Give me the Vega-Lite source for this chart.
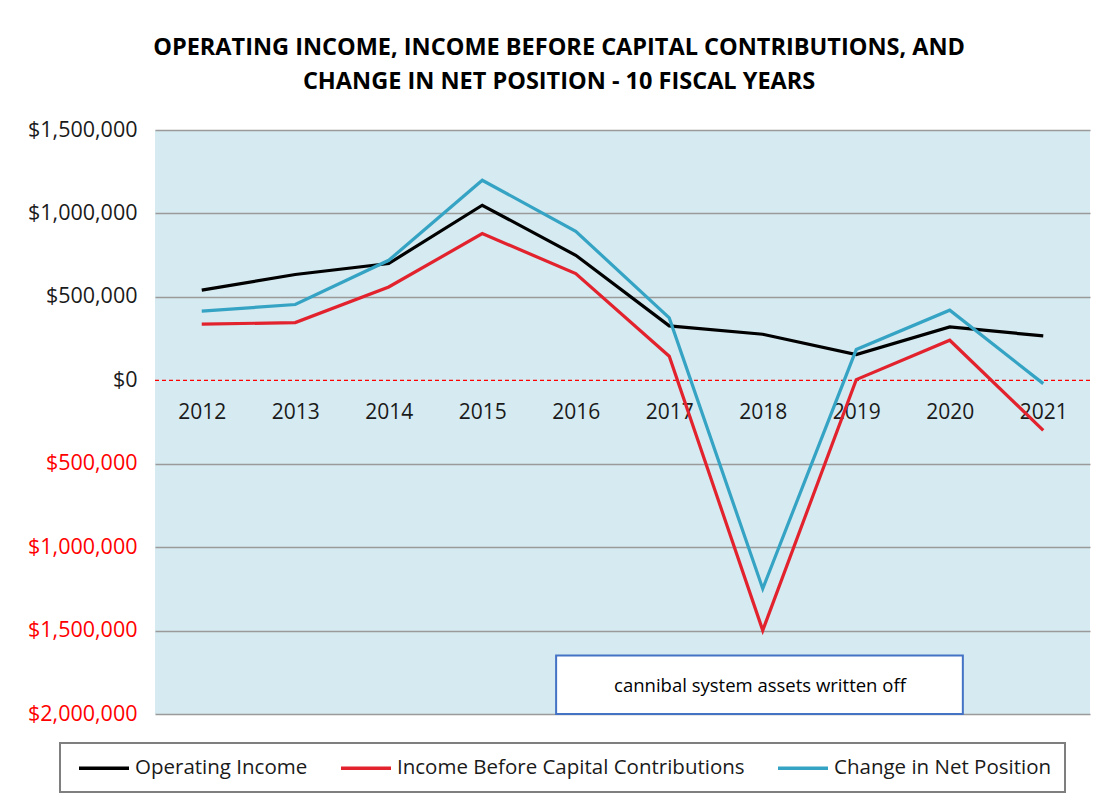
{
  "$schema": "https://vega.github.io/schema/vega-lite/v6.json",
  "width": 935,
  "height": 584,
  "autosize": {"type": "none"},
  "padding": {"left": 155, "top": 130, "right": 15, "bottom": 83},
  "background": "white",
  "title": {
    "text": ["OPERATING INCOME, INCOME BEFORE CAPITAL CONTRIBUTIONS, AND", "CHANGE IN NET POSITION - 10 FISCAL YEARS"],
    "font": "Open Sans",
    "fontSize": 23.5,
    "fontWeight": "bold",
    "color": "#000000",
    "lineHeight": 34,
    "anchor": "middle",
    "frame": "bounds",
    "offset": 26
  },
  "config": {
    "view": {"fill": "#D5EAF1", "stroke": null},
    "font": "Open Sans"
  },
  "datasets": {
    "main": [
      {"year": 2012, "series": "Operating Income", "value": 540000},
      {"year": 2013, "series": "Operating Income", "value": 634000},
      {"year": 2014, "series": "Operating Income", "value": 700000},
      {"year": 2015, "series": "Operating Income", "value": 1049000},
      {"year": 2016, "series": "Operating Income", "value": 749000},
      {"year": 2017, "series": "Operating Income", "value": 326000},
      {"year": 2018, "series": "Operating Income", "value": 276000},
      {"year": 2019, "series": "Operating Income", "value": 154000},
      {"year": 2020, "series": "Operating Income", "value": 320000},
      {"year": 2021, "series": "Operating Income", "value": 266000},
      {"year": 2012, "series": "Income Before Capital Contributions", "value": 336000},
      {"year": 2013, "series": "Income Before Capital Contributions", "value": 346000},
      {"year": 2014, "series": "Income Before Capital Contributions", "value": 559000},
      {"year": 2015, "series": "Income Before Capital Contributions", "value": 879000},
      {"year": 2016, "series": "Income Before Capital Contributions", "value": 640000},
      {"year": 2017, "series": "Income Before Capital Contributions", "value": 144000},
      {"year": 2018, "series": "Income Before Capital Contributions", "value": -1499000},
      {"year": 2019, "series": "Income Before Capital Contributions", "value": 4000},
      {"year": 2020, "series": "Income Before Capital Contributions", "value": 240000},
      {"year": 2021, "series": "Income Before Capital Contributions", "value": -300000},
      {"year": 2012, "series": "Change in Net Position", "value": 414000},
      {"year": 2013, "series": "Change in Net Position", "value": 454000},
      {"year": 2014, "series": "Change in Net Position", "value": 719000},
      {"year": 2015, "series": "Change in Net Position", "value": 1199000},
      {"year": 2016, "series": "Change in Net Position", "value": 893000},
      {"year": 2017, "series": "Change in Net Position", "value": 374000},
      {"year": 2018, "series": "Change in Net Position", "value": -1249000},
      {"year": 2019, "series": "Change in Net Position", "value": 184000},
      {"year": 2020, "series": "Change in Net Position", "value": 420000},
      {"year": 2021, "series": "Change in Net Position", "value": -20000}
    ],
    "zero": [{"value": 0}],
    "note": [
      {"x1": 2015.79, "x2": 2020.14, "y1": -1650000, "y2": -2000000, "xm": 2017.97, "ym": -1834000, "label": "cannibal system assets written off"}
    ]
  },
  "layer": [
    {
      "data": {"name": "zero"},
      "mark": {"type": "rule", "color": "#FF0000", "strokeDash": [4, 3], "strokeWidth": 1.2},
      "encoding": {
        "y": {"field": "value", "type": "quantitative", "axis": {"title": null}}
      }
    },
    {
      "data": {"name": "main"},
      "mark": {"type": "line", "strokeWidth": 3.2},
      "encoding": {
        "x": {
          "field": "year",
          "type": "quantitative",
          "scale": {"domain": [2011.5, 2021.5], "nice": false, "zero": false},
          "axis": {
            "title": null,
            "values": [2012, 2013, 2014, 2015, 2016, 2017, 2018, 2019, 2020, 2021],
            "format": "d",
            "grid": false,
            "domain": false,
            "ticks": false,
            "offset": -313,
            "labelPadding": 0,
            "labelFont": "Open Sans",
            "labelFontSize": 21,
            "labelColor": "#1a1a1a"
          }
        },
        "y": {
          "field": "value",
          "type": "quantitative",
          "scale": {"domain": [-2000000, 1500000], "nice": false, "zero": false},
          "axis": {
            "title": null,
            "values": [-2000000, -1500000, -1000000, -500000, 0, 500000, 1000000, 1500000],
            "labelExpr": "'$' + format(abs(datum.value), ',')",
            "labelColor": {"condition": {"test": "datum.value < 0", "value": "#FF0000"}, "value": "#1a1a1a"},
            "gridColor": {"condition": {"test": "datum.value === 0", "value": "transparent"}, "value": "#9a9a9a"},
            "gridWidth": 1.5,
            "domain": false,
            "ticks": false,
            "labelPadding": 18,
            "labelFont": "Open Sans",
            "labelFontSize": 21.5
          }
        },
        "color": {
          "field": "series",
          "type": "nominal",
          "scale": {
            "domain": ["Operating Income", "Income Before Capital Contributions", "Change in Net Position"],
            "range": ["#000000", "#E2222D", "#35A3C3"]
          },
          "legend": {
            "title": null,
            "orient": "none",
            "legendX": -95,
            "legendY": 613,
            "direction": "horizontal",
            "symbolType": "M-1,0H4",
            "symbolSize": 400,
            "symbolStrokeWidth": 3.5,
            "labelFont": "Open Sans",
            "labelFontSize": 20.5,
            "labelColor": "#1a1a1a",
            "labelOffset": 34,
            "labelLimit": 500,
            "columnPadding": 26,
            "padding": 13,
            "strokeColor": "#7f7f7f",
            "fillColor": "white",
            "symbolOffset": 4,
            "encode": {"legend": {"update": {"strokeWidth": {"value": 2}}}}
          }
        }
      }
    },
    {
      "data": {"name": "note"},
      "mark": {"type": "rect", "fill": "white", "stroke": "#4472C4", "strokeWidth": 2},
      "encoding": {
        "x": {"field": "x1", "type": "quantitative", "axis": {"title": null}},
        "x2": {"field": "x2"},
        "y": {"field": "y1", "type": "quantitative", "axis": {"title": null}},
        "y2": {"field": "y2"}
      }
    },
    {
      "data": {"name": "note"},
      "mark": {"type": "text", "font": "Open Sans", "fontSize": 18.5, "color": "#000000"},
      "encoding": {
        "x": {"field": "xm", "type": "quantitative", "axis": {"title": null}},
        "y": {"field": "ym", "type": "quantitative", "axis": {"title": null}},
        "text": {"field": "label"}
      }
    }
  ]
}
